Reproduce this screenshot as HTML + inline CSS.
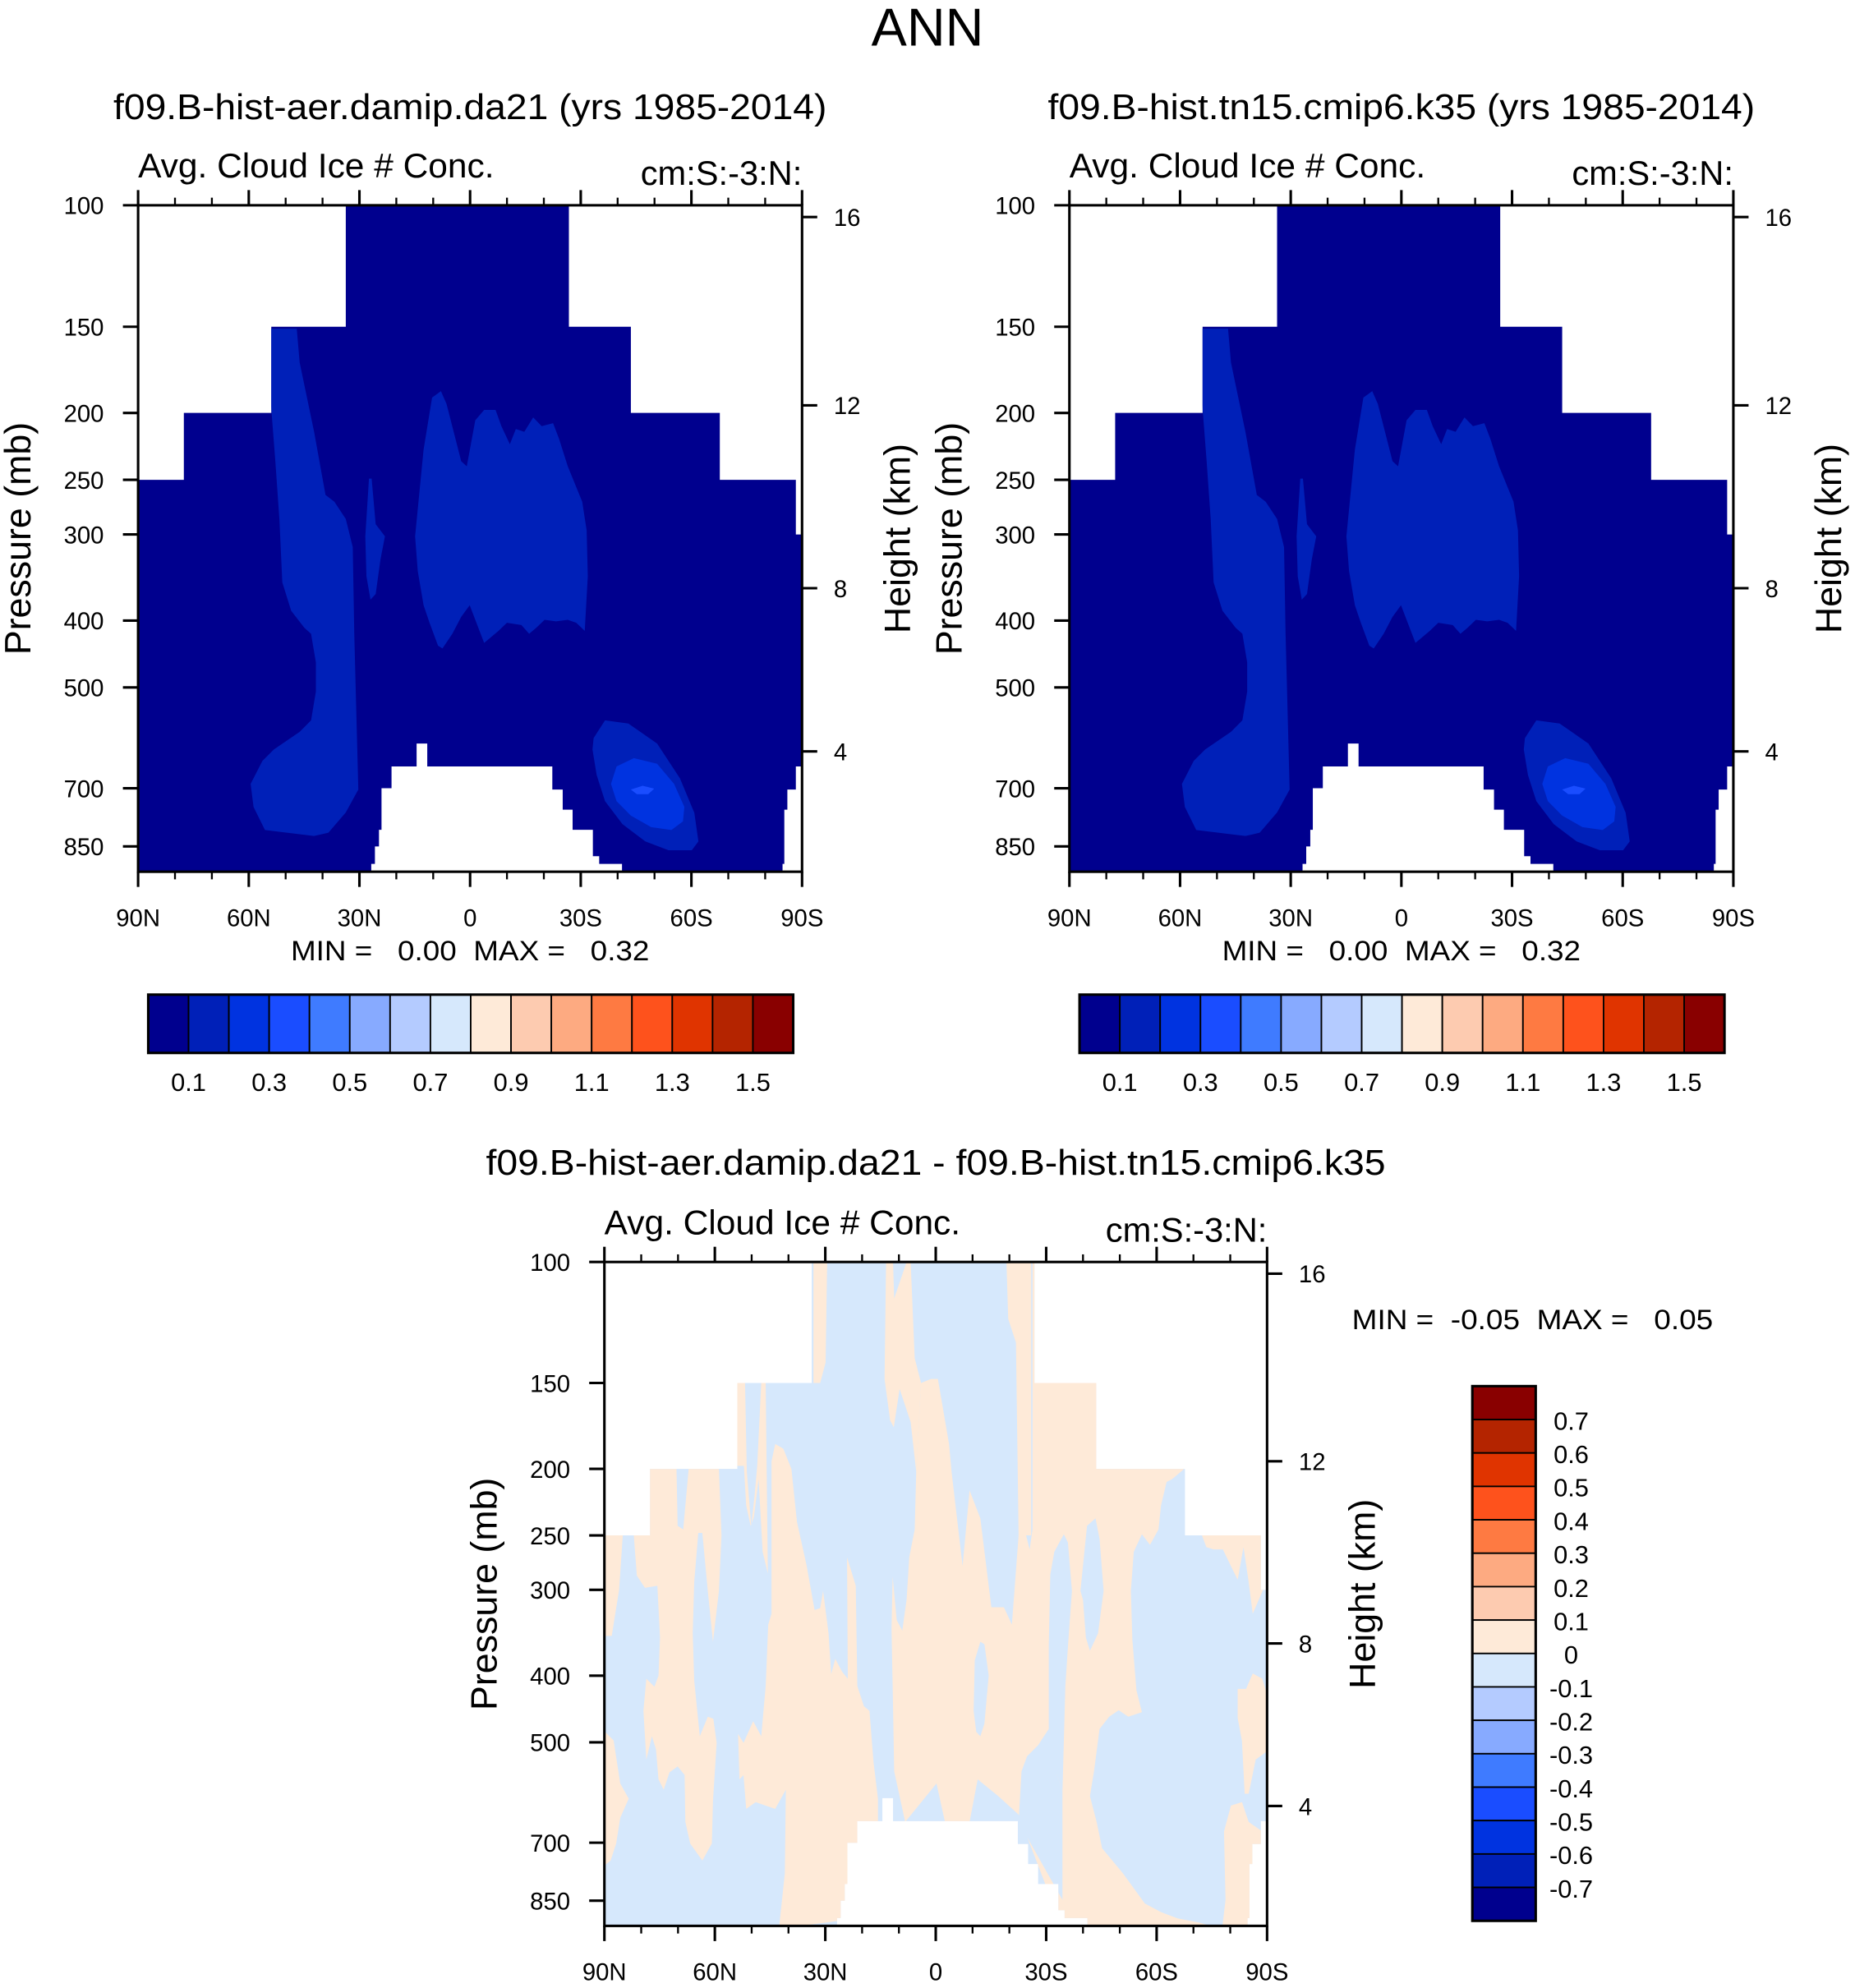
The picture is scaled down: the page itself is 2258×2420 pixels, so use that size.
<!DOCTYPE html>
<html><head><meta charset="utf-8"><style>
html,body{margin:0;padding:0;background:#fff;}
svg{display:block;}
text{font-family:"Liberation Sans",Arial,sans-serif;fill:#000;}
</style></head><body>
<svg id="fig" xmlns="http://www.w3.org/2000/svg" width="2258" height="2420" viewBox="0 0 1464 1569">
<rect width="1464" height="1569" fill="#fff"/>
<text x="732" y="36" font-size="42" text-anchor="middle">ANN</text>
</svg>
<script>
// ---------- data ----------
const latTicks = [90, 60, 30, 0, -30, -60, -90];
const latLabels = ["90N", "60N", "30N", "0", "30S", "60S", "90S"];
const latMinor = [80, 70, 50, 40, 20, 10, -10, -20, -40, -50, -70, -80];
const presTicks = [100, 150, 200, 250, 300, 400, 500, 700, 850];
const heightTicks = [16, 12, 8, 4];
const heightPres = [104, 195, 359, 619];
const pBottom = 925;
const absColors = ["#00008e","#0020b8","#0033e0","#1a4dff","#3f7bff","#87aaff","#b4cbff","#d6e8fc","#feead8","#fdcbb0","#fdaa81","#fe7a42","#fe521c","#e03400","#b42400","#890000"];
const absLabels = ["0.1","0.3","0.5","0.7","0.9","1.1","1.3","1.5"];
const diffLabels = ["0.7","0.6","0.5","0.4","0.3","0.2","0.1","0","-0.1","-0.2","-0.3","-0.4","-0.5","-0.6","-0.7"];
// valid-data region (lat, hPa)
const maskPoly = [[90,250],[77.6,250],[77.6,200],[53.9,200],[53.9,150],[33.7,150],[33.7,100],[-26.8,100],[-26.8,150],[-43.6,150],[-43.6,200],[-67.7,200],[-67.7,250],[-88.3,250],[-88.3,300],[-90,300],[-90,651],[-88.3,651],[-88.3,703],[-86.0,703],[-86.0,752],[-85.2,752],[-85.2,901],[-84.7,901],[-84.7,925],[-41.2,925],[-41.2,901],[-35.0,901],[-35.0,878],[-33.3,878],[-33.3,804],[-27.8,804],[-27.8,752],[-25.1,752],[-25.1,703],[-22.3,703],[-22.3,651],[11.6,651],[11.6,603],[14.5,603],[14.5,651],[21.3,651],[21.3,700],[24.0,700],[24.0,804],[24.7,804],[24.7,850],[25.8,850],[25.8,901],[26.8,901],[26.8,925],[90,925]];
// absolute field contours (level index into absColors)
const blobA = [[54.0,151],[47.0,151],[46.2,169],[42.3,213],[39.2,263],[36.8,269],[33.7,285],[31.8,313],[31.4,418],[30.3,703],[33.7,759],[38.4,812],[42.3,821],[55.6,805],[58.7,745],[59.5,690],[56.3,639],[53.2,615],[46.2,580],[43.1,558],[41.8,507],[41.8,460],[43.1,418],[44.9,410],[48.5,387],[50.9,352],[51.7,285],[52.8,235],[54.0,194]];
const blobB = [[14.9,302],[12.6,226],[10.3,190],[7.9,186],[6.4,194],[2.4,235],[0.9,239],[-1.4,205],[-3.8,198],[-6.9,198],[-8.5,209],[-10.8,222],[-12.4,211],[-14.7,213],[-17.1,203],[-19.4,209],[-22.5,207],[-24.1,218],[-26.5,239],[-30.4,269],[-31.6,296],[-31.9,345],[-31.1,414],[-28.8,403],[-26.5,399],[-23.3,401],[-20.2,399],[-17.9,410],[-16.0,418],[-13.9,406],[-10.0,403],[-7.7,414],[-3.8,431],[-1.4,399],[0.1,380],[2.4,395],[4.8,418],[7.5,439],[8.7,435],[11.0,403],[12.6,380],[14.2,339]];
const blobC = [[27.4,249],[26.7,249],[25.6,290],[23.1,302],[24.3,326],[25.6,366],[27.0,373],[28.1,345],[28.4,302]];
const blobD1 = [[-33.5,592],[-36.6,558],[-42.9,564],[-50.7,603],[-56.9,677],[-60.8,760],[-61.9,836],[-60.1,861],[-53.8,861],[-47.5,836],[-41.3,789],[-36.6,731],[-34.3,670],[-33.2,615]];
const blobD2 = [[-38.2,690],[-39.7,651],[-44.4,633],[-50.7,645],[-55.3,690],[-58.1,745],[-57.7,782],[-54.6,805],[-49.1,797],[-43.6,767],[-39.7,731]];
const blobD3 = [[-43.6,703],[-46.8,694],[-49.9,701],[-48.3,714],[-45.2,714]];
const absBlobs = [blobA, blobB, blobC, blobD1, blobD2, blobD3];
const absLevels = [1, 1, 1, 1, 2, 3];
// difference field: positive (peach) regions and negative holes
const pos1 = [[90,250],[85,250],[86,300],[88,350],[90,350]];
const pos2 = [[82.0,250],[77.9,250],[77.9,200],[70.4,200],[70.1,242],[68.6,245],[67.1,200],[58.9,200],[58.2,250],[58.9,301],[60.5,357],[61.9,301],[63.4,248],[64.5,248],[65.6,292],[66.0,347],[65.6,407],[64.1,490],[61.9,459],[60.4,462],[59.5,501],[60.5,608],[60.8,702],[63.4,743],[66.7,702],[68.0,653],[68.2,558],[70.1,542],[72.3,553],[73.9,586],[75.3,566],[76.0,512],[77.1,490],[78.6,530],[79.4,450],[78.6,404],[76.4,415],[75.3,400],[74.9,352],[75.6,296],[79.0,298],[81.2,286]];
const pos3 = [[89.8,483],[87.5,497],[85.7,574],[83.4,604],[85.7,644],[86.8,702],[88.3,743],[89.8,754]];
const pos4 = [[54.1,150],[51.8,150],[51.3,202],[50.1,242],[49.2,219],[48.5,198],[47.4,150],[46.2,150],[45.6,284],[47.0,264],[48.1,207],[49.4,235],[50.3,242],[51.5,226],[52.1,198],[54.1,198]];
const pos5 = [[47.4,490],[46.2,414],[45.5,337],[44.6,325],[44.6,195],[43.6,184],[41.4,187],[39.2,200],[37.7,239],[35.1,276],[32.9,321],[31.4,319],[30.6,301],[29.1,347],[28.4,398],[27.3,378],[25.4,395],[23.9,404],[24.1,269],[21.7,296],[21.3,414],[19.5,443],[18.0,450],[16.9,534],[15.7,604],[15.7,653],[26.2,909],[36.6,925],[42.5,925],[41.0,776],[40.7,586],[43.6,625],[48.9,611],[51.5,625],[52.2,558],[53.3,566],[53.7,486],[52.2,501],[49.6,466]];
const pos6 = [[33.2,100],[29.5,100],[29.9,140],[31.4,150],[33.2,150]];
const pos7 = [[13.5,100],[11.6,100],[11.3,113],[7.9,100],[6.8,100],[5.7,138],[4.0,150],[5.3,202],[6.8,171],[9.8,153],[11.4,174],[12.4,170],[13.9,148]];
const pos8 = [[4.0,150],[1.3,148],[-0.6,148],[-3.6,184],[-4.3,202],[-7.3,277],[-9.2,215],[-12.1,236],[-15.1,318],[-18.5,318],[-20.7,337],[-22.5,250],[-23.7,240],[-25.5,262],[-26.3,245],[-26.3,100],[-27.2,100],[-27.4,150],[-44.1,150],[-44.5,200],[-67.5,200],[-64.2,207],[-62.7,209],[-61.2,226],[-60.5,245],[-58.2,258],[-56.0,249],[-53.8,264],[-53.0,301],[-53.4,355],[-54.5,420],[-56.0,452],[-52.3,459],[-49.7,449],[-47.1,459],[-44.5,478],[-43.0,551],[-41.9,599],[-43.7,653],[-45.2,713],[-50.8,775],[-56.8,858],[-61.2,883],[-65.7,902],[-71.6,915],[-74.6,925],[-34.1,925],[-22.5,637],[-17.0,599],[-11.4,566],[-9.2,653],[-2.5,653],[-0.2,574],[8.3,653],[11.3,551],[11.7,414],[12.0,342],[11.7,287],[10.6,332],[9.1,344],[7.9,310],[7.2,269],[5.7,245],[5.3,202]];
const pos9 = [[-19.2,100],[-25.9,100],[-25.9,250],[-22.5,250],[-21.8,131],[-19.7,121]];
const pos10 = [[-82.0,418],[-84.3,418],[-86.1,397],[-88.7,404],[-90,426],[-90,515],[-86.9,530],[-85.0,594],[-83.9,594],[-83.2,498],[-82.0,461]];
const pos11 = [[-78.3,674],[-80.2,618],[-83.2,611],[-85.0,653],[-88.7,674],[-88.7,925],[-77.9,925],[-78.7,848]];
const pos12 = [[-72.3,250],[-88.7,250],[-88.9,300],[-86.1,325],[-84.9,290],[-83.6,260],[-82.0,290],[-80.6,280],[-78.0,262],[-75.5,262],[-73.5,260]];
const neg1 = [[-12.1,357],[-13.2,360],[-14.4,400],[-13.2,470],[-12.1,490],[-11.0,483],[-10.3,450],[-10.6,380]];
const neg2 = [[-34.8,249],[-35.9,256],[-37.0,301],[-36.0,357],[-35.2,414],[-34.4,590],[-32.9,556],[-30.7,560],[-30.7,362],[-31.1,285],[-32.2,264]];
const neg3 = [[-43.4,236],[-44.5,253],[-45.6,301],[-44.1,347],[-41.9,368],[-40.8,352],[-40.0,310],[-39.3,301],[-41.1,242]];
const neg4 = [[-30.7,478],[-32.9,556],[-34.4,590],[-34.4,848],[-22.5,653],[-23.3,551],[-24.8,524],[-27.8,505]];
const diffPos = [pos1,pos2,pos3,pos4,pos5,pos6,pos7,pos8,pos9,pos10,pos11,pos12];
const diffNeg = [neg1,neg2,neg3,neg4];

// ---------- drawing ----------
const NS = "http://www.w3.org/2000/svg";
const svg = document.getElementById("fig");
function mk(tag, attrs, parent) {
  const e = document.createElementNS(NS, tag);
  for (const k in attrs) e.setAttribute(k, attrs[k]);
  (parent || svg).appendChild(e);
  return e;
}
function txt(s, x, y, size, anchor, extra, parent) {
  const t = mk("text", Object.assign({x: x, y: y, "font-size": size, "text-anchor": anchor || "start"}, extra || {}), parent);
  t.textContent = s;
  return t;
}
let clipId = 0;
function panel(P) {
  const g = mk("g", {});
  
  
  const kx = P.w / 180, ky = P.h / Math.log(pBottom / 100);
  const X = lat => P.x + (90 - lat) * kx;
  const Y = p => P.y + Math.log(p / 100) * ky;
  const pts = arr => arr.map(a => X(a[0]).toFixed(1) + "," + Y(a[1]).toFixed(1)).join(" ");
  const cid = "clip" + (clipId++);
  const cp = mk("clipPath", {id: cid}, g);
  mk("polygon", {points: pts(maskPoly)}, cp);
  const field = mk("g", {"clip-path": "url(#" + cid + ")"}, g);
  
  
  const base = mk("rect", {x: P.x, y: P.y, width: P.w, height: P.h, fill: P.base}, field);
  
  
  P.fills.forEach((f, i) => {
    const pg = mk("polygon", {points: pts(f.poly), fill: f.color}, field);
    
    
  });
  // frame
  const fr = mk("rect", {x: P.x, y: P.y, width: P.w, height: P.h, fill: "none", stroke: "#000", "stroke-width": 2}, g);
  
  
  // x ticks
  latTicks.forEach((l, i) => {
    const x = X(l);
    mk("line", {x1: x, x2: x, y1: P.y, y2: P.y - 12, stroke: "#000", "stroke-width": 2}, g);
    mk("line", {x1: x, x2: x, y1: P.y + P.h, y2: P.y + P.h + 12, stroke: "#000", "stroke-width": 2}, g);
    const t = txt(latLabels[i], x, P.y + P.h + 43, 19, "middle", {}, g);
    
    
  });
  latMinor.forEach(l => {
    const x = X(l);
    mk("line", {x1: x, x2: x, y1: P.y, y2: P.y - 6, stroke: "#000", "stroke-width": 1.5}, g);
    mk("line", {x1: x, x2: x, y1: P.y + P.h, y2: P.y + P.h + 6, stroke: "#000", "stroke-width": 1.5}, g);
  });
  presTicks.forEach(p => {
    const y = Y(p);
    mk("line", {x1: P.x - 12, x2: P.x, y1: y, y2: y, stroke: "#000", "stroke-width": 2}, g);
    const t = txt(String(p), P.x - 27, y + 7, 19, "end", {}, g);
    
    
  });
  heightTicks.forEach((h, i) => {
    const y = Y(heightPres[i]);
    mk("line", {x1: P.x + P.w, x2: P.x + P.w + 12, y1: y, y2: y, stroke: "#000", "stroke-width": 2}, g);
    const t = txt(String(h), P.x + P.w + 25, y + 7, 19, "start", {}, g);
    
    
  });
  const cy = P.y + P.h / 2;
  let t = txt("Pressure (mb)", 0, 0, 29, "middle", {transform: "translate(" + (P.x - 85) + "," + cy + ") rotate(-90)"}, g);
  
  
  t = txt("Height (km)", 0, 0, 29, "middle", {transform: "translate(" + (P.x + P.w + 85) + "," + cy + ") rotate(-90)"}, g);
  
  
  t = txt("Avg. Cloud Ice # Conc.", P.x, P.y - 22, 27, "start", {textLength: 281, lengthAdjust: "spacingAndGlyphs"}, g);
  
  
  t = txt("cm:S:-3:N:", P.x + P.w, P.y - 16, 27, "end", {}, g);
  
  
  t = txt(P.title, P.x + P.w / 2 + P.titleDx, P.titleY, 28, "middle", {textLength: P.titleLen, lengthAdjust: "spacingAndGlyphs"}, g);
  
  
  return g;
}
function absFills() { return absBlobs.map((b, i) => ({poly: b, color: absColors[absLevels[i]]})); }
function diffFills() {
  return diffPos.map(b => ({poly: b, color: absColors[8]})).concat(diffNeg.map(b => ({poly: b, color: absColors[7]})));
}
function hColorbar(x, y, w, h, name) {
  const g = mk("g", {});
  
  
  const bw = w / absColors.length;
  absColors.forEach((c, i) => {
    const r = mk("rect", {x: x + i * bw, y: y, width: bw, height: h, fill: c, stroke: "#000", "stroke-width": 1.2}, g);
    
    
  });
  mk("rect", {x: x, y: y, width: w, height: h, fill: "none", stroke: "#000", "stroke-width": 2}, g);
  absLabels.forEach((s, i) => {
    const t = txt(s, x + (2 * i + 1) * bw, y + h + 30, 20, "middle", {}, g);
    
    
  });
}
function vColorbar(x, y, w, h, name) {
  const g = mk("g", {});
  
  
  const bh = h / absColors.length;
  absColors.slice().reverse().forEach((c, i) => {
    const r = mk("rect", {x: x, y: y + i * bh, width: w, height: bh, fill: c, stroke: "#000", "stroke-width": 1.2}, g);
    
    
  });
  mk("rect", {x: x, y: y, width: w, height: h, fill: "none", stroke: "#000", "stroke-width": 2}, g);
  diffLabels.forEach((s, i) => {
    const t = txt(s, x + w + 28, y + (i + 1) * bh + 8, 20, "middle", {}, g);
    
    
  });
}
function minmax(s, x, y, len, anchor) {
  const t = txt(s, x, y, 22, anchor, {textLength: len, lengthAdjust: "spacingAndGlyphs", "xml:space": "preserve", style: "white-space:pre"});
  
  
}

panel({name: "panel-test", x: 109, y: 162, w: 524, h: 526, base: absColors[0], fills: absFills(),
  title: "f09.B-hist-aer.damip.da21 (yrs 1985-2014)", titleDx: 0, titleY: 94, titleLen: 563});
minmax("MIN =   0.00  MAX =   0.32", 371, 758, 283, "middle");
hColorbar(117, 785, 509, 46, "colorbar-test");

panel({name: "panel-control", x: 844, y: 162, w: 524, h: 526, base: absColors[0], fills: absFills(),
  title: "f09.B-hist.tn15.cmip6.k35 (yrs 1985-2014)", titleDx: 0, titleY: 94, titleLen: 558});
minmax("MIN =   0.00  MAX =   0.32", 1106, 758, 283, "middle");
hColorbar(852, 785, 509, 46, "colorbar-control");

panel({name: "panel-difference", x: 477, y: 996, w: 523, h: 524, base: absColors[7], fills: diffFills(),
  title: "f09.B-hist-aer.damip.da21 - f09.B-hist.tn15.cmip6.k35", titleDx: 0, titleY: 927, titleLen: 710});
minmax("MIN =  -0.05  MAX =   0.05", 1067, 1049, 285, "start");
vColorbar(1162, 1094, 50, 422, "colorbar-difference");
</script>
</body></html>
